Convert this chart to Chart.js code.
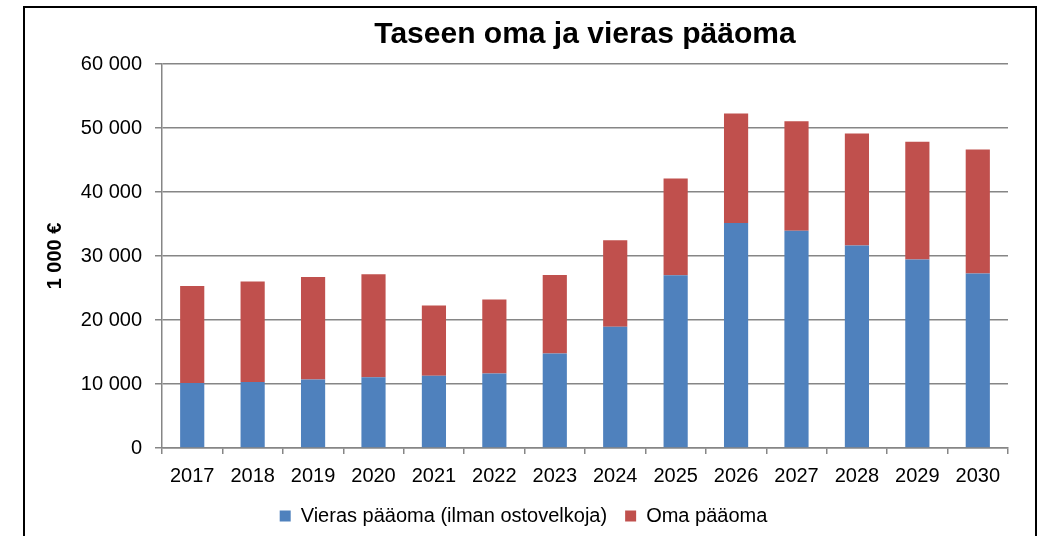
<!DOCTYPE html>
<html>
<head>
<meta charset="utf-8">
<script src="https://cdn.jsdelivr.net/npm/chart.js@4/dist/chart.umd.min.js"></script>
<style>
  html, body { margin: 0; padding: 0; background: #fff; overflow: hidden; }
  #wrap { position: relative; width: 1038px; height: 536px; }
  #frame {
    position: absolute; left: 23px; top: 6px; width: 1010px; height: 600px;
    border: 2px solid #000; pointer-events: none;
  }
</style>
</head>
<body>
<div id="wrap">
  <canvas id="chart" width="1038" height="536"></canvas>
  <div id="frame"></div>
</div>
<script>
const years = ['2017', '2018', '2019', '2020', '2021', '2022', '2023',
               '2024', '2025', '2026', '2027', '2028', '2029', '2030'];
const vierasPaaoma = [10150, 10300, 10700, 11050, 11300, 11650, 14750,
                      18950, 27000, 35150, 33950, 31650, 29450, 27250];
const omaPaaoma = [15150, 15700, 16000, 16100, 10950, 11550, 12300,
                   13500, 15100, 17100, 17100, 17500, 18400, 19400];
const yTicks = [0, 10000, 20000, 30000, 40000, 50000, 60000];

const FONT = "'Liberation Sans', Arial, sans-serif";
const GRID = '#868686';

function formatThousands(v) {
  return String(v).replace(/\B(?=(\d{3})+(?!\d))/g, ' ');
}

Chart.defaults.font.family = FONT;
Chart.defaults.color = '#000';

const ctx = document.getElementById('chart').getContext('2d');

new Chart(ctx, {
  type: 'bar',
  data: {
    labels: years,
    datasets: [
      {
        label: 'Vieras pääoma (ilman ostovelkoja)',
        data: vierasPaaoma,
        backgroundColor: '#4f81bd',
        barPercentage: 0.4,
        categoryPercentage: 1
      },
      {
        label: 'Oma pääoma',
        data: omaPaaoma,
        backgroundColor: '#c0504d',
        barPercentage: 0.4,
        categoryPercentage: 1
      }
    ]
  },
  options: {
    responsive: false,
    animation: false,
    layout: {
      padding: { left: 39, right: 30, top: 0, bottom: 0 }
    },
    plugins: {
      title: {
        display: true,
        text: 'Taseen oma ja vieras pääoma',
        fullSize: false,
        font: { size: 30, weight: 'bold' },
        color: '#000',
        padding: { top: 17, bottom: 11 }
      },
      legend: {
        position: 'bottom',
        maxHeight: 48,
        labels: {
          boxWidth: 11,
          boxHeight: 11,
          padding: 18,
          font: { size: 20 },
          color: '#000'
        }
      },
      tooltip: { enabled: false }
    },
    scales: {
      x: {
        stacked: true,
        afterFit: (scale) => { scale.height = 40; },
        grid: {
          drawOnChartArea: false,
          drawTicks: true,
          tickLength: 6,
          color: GRID,
          lineWidth: 1.5
        },
        border: { display: true, color: GRID, width: 1.5 },
        ticks: {
          font: { size: 20 },
          color: '#000',
          padding: 10,
          maxRotation: 0
        }
      },
      y: {
        stacked: true,
        min: 0,
        max: 60000,
        afterFit: (scale) => { scale.width = 123; },
        afterBuildTicks: (scale) => {
          scale.ticks = yTicks.map(v => ({ value: v }));
        },
        grid: {
          color: GRID,
          lineWidth: 1.5,
          tickLength: 7
        },
        border: { display: true, color: GRID, width: 1.5 },
        ticks: {
          font: { size: 20 },
          color: '#000',
          padding: 13,
          callback: value => formatThousands(value)
        },
        title: {
          display: true,
          text: '1 000 €',
          font: { size: 20, weight: 'bold' },
          color: '#000',
          padding: { top: 4, bottom: 4 }
        }
      }
    }
  }
});
</script>
</body>
</html>
